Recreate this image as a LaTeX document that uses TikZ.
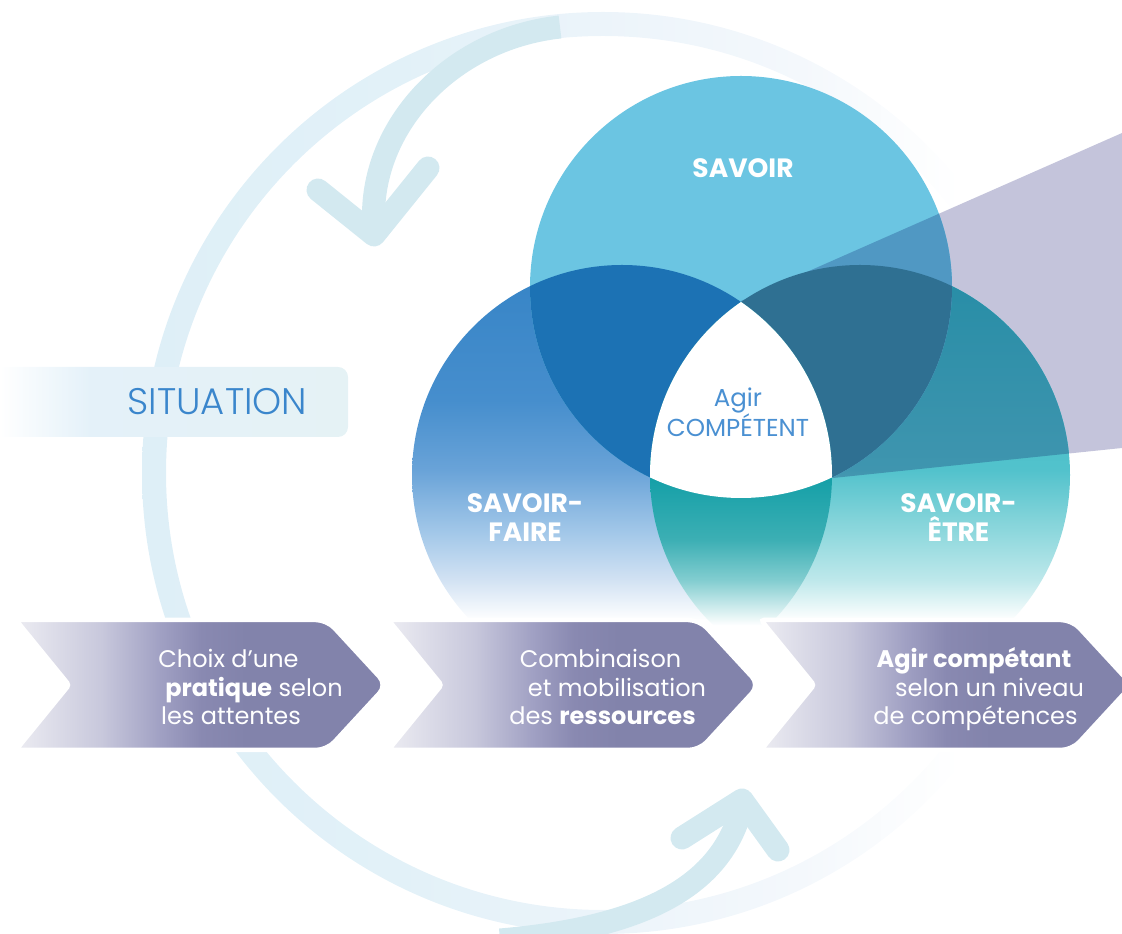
\documentclass[tikz,border=0pt]{standalone}
\usepackage{fontspec}
\setmainfont{Poppins}
\newfontfamily\poplight{Poppins Light}
\usetikzlibrary{calc}

\definecolor{ringA}{RGB}{222,239,247}
\definecolor{ringB}{RGB}{226,241,248}
\definecolor{ringC}{RGB}{236,244,250}
\definecolor{ringD}{RGB}{244,248,252}
\definecolor{arrowcol}{RGB}{211,233,240}
\definecolor{sitA}{RGB}{228,241,249}
\definecolor{sitB}{RGB}{229,242,245}
\definecolor{sittext}{RGB}{58,134,204}
\definecolor{conecol}{RGB}{196,196,219}
\definecolor{savcol}{RGB}{107,197,226}
\definecolor{savdark}{RGB}{80,152,195}
\definecolor{lensSF}{RGB}{28,114,180}
\definecolor{lensSE}{RGB}{47,112,146}
\definecolor{fF0}{RGB}{54,132,198}
\definecolor{fF1}{RGB}{70,142,205}
\definecolor{fF2}{RGB}{105,163,216}
\definecolor{fF3}{RGB}{160,198,232}
\definecolor{fF4}{RGB}{210,226,243}
\definecolor{fE0}{RGB}{50,183,193}
\definecolor{fE2}{RGB}{82,194,204}
\definecolor{fE3}{RGB}{140,215,220}
\definecolor{fE4}{RGB}{190,232,235}
\definecolor{dE0}{RGB}{38,141,166}
\definecolor{dE2}{RGB}{63,149,175}
\definecolor{dE3}{RGB}{108,165,189}
\definecolor{lFE0}{RGB}{22,160,168}
\definecolor{lFE1}{RGB}{60,175,180}
\definecolor{lFE2}{RGB}{130,205,208}
\definecolor{chA}{RGB}{236,236,242}
\definecolor{chB}{RGB}{200,200,220}
\definecolor{chC}{RGB}{160,160,195}
\definecolor{chD}{RGB}{137,137,177}
\definecolor{chE}{RGB}{130,131,171}
\definecolor{agircol}{RGB}{74,144,210}

\pgfdeclarehorizontalshading{ringsh}{100bp}{color(0bp)=(ringA); color(25bp)=(ringA); color(39bp)=(ringB); color(49.8bp)=(ringC); color(60.7bp)=(ringD); color(69.4bp)=(white); color(100bp)=(white)}
\pgfdeclarehorizontalshading{sitsh}{100bp}{color(0bp)=(white); color(27.7bp)=(white); color(40bp)=(sitA); color(75bp)=(sitB); color(100bp)=(sitB)}
\pgfdeclareverticalshading{fadeF}{100bp}{color(0bp)=(white); color(32.7bp)=(white); color(37.5bp)=(fF4); color(43.5bp)=(fF3); color(50.6bp)=(fF2); color(58.9bp)=(fF1); color(75bp)=(fF0); color(100bp)=(fF0)}
\pgfdeclareverticalshading{fadeE}{100bp}{color(0bp)=(white); color(32.7bp)=(white); color(37.5bp)=(fE4); color(43.5bp)=(fE3); color(50.6bp)=(fE2); color(75bp)=(fE0); color(100bp)=(fE0)}
\pgfdeclareverticalshading{darkE}{100bp}{color(0bp)=(dE3); color(43.5bp)=(dE3); color(50.6bp)=(dE2); color(75bp)=(dE0); color(100bp)=(dE0)}
\pgfdeclareverticalshading{lensFE}{100bp}{color(0bp)=(white); color(32.1bp)=(white); color(37.5bp)=(lFE2); color(42.3bp)=(lFE1); color(49.4bp)=(lFE0); color(100bp)=(lFE0)}
\pgfdeclarehorizontalshading{chevsh}{100bp}{color(0bp)=(chA); color(25bp)=(chA); color(36.5bp)=(chB); color(44.5bp)=(chC); color(50bp)=(chD); color(56bp)=(chE); color(100bp)=(chE)}

\tikzset{
  arrowline/.style={draw=arrowcol, line width=23pt, line cap=round, line join=round},
  arrowshaft/.style={draw=arrowcol, line width=23pt, line cap=butt},
  chevron/.style={draw=white, line width=4.5pt, shading=chevsh},
  chevtext/.style={anchor=base, text=white, inner sep=0pt, font=\fontsize{24}{28}\selectfont},
  venntext/.style={anchor=base, text=white, inner sep=0pt, font=\fontsize{26.5}{30}\selectfont\bfseries},
  agirtext/.style={anchor=base, text=agircol, inner sep=0pt, font=\fontsize{24.5}{28}\selectfont},
}

\begin{document}
\begin{tikzpicture}[x=1pt,y=1pt]
\useasboundingbox (0,0) rectangle (1122,934);

% ring
\coordinate (R) at (603,461);
\path[even odd rule, shading=ringsh] (R) circle[radius=461] (R) circle[radius=437];

% curved arrows
\coordinate (ta0) at (560,907);
\coordinate (ta1) at (374,705);
\coordinate (tal) at (318,744);
\coordinate (tap) at (374,699);
\coordinate (tar) at (428,766);
\draw[arrowshaft] (ta0) .. controls (450,895) and (366,805) .. (ta1);
\draw[arrowline] (tal) -- (tap) -- (tar);

\coordinate (ba0) at (500,-6);
\coordinate (ba1) at (742,128);
\coordinate (bal) at (682,96);
\coordinate (bap) at (742,134);
\coordinate (bar) at (778,84);
\draw[arrowshaft] (ba0) .. controls (665,8) and (725,60) .. (ba1);
\draw[arrowline] (bal) -- (bap) -- (bar);

% situation box
\path[shading=sitsh, rounded corners=10pt] (-20,497) rectangle (348,567);
\node[text=sittext, anchor=base, inner sep=0pt, font=\poplight\fontsize{37}{40}\selectfont] (sit) at (217.5,519) {SITUATION};

% cone
\coordinate (k1) at (741,633);
\coordinate (k2) at (1122,801);
\coordinate (k3) at (1122,486);
\coordinate (k4) at (833,456);
\fill[conecol] (k1) -- (k2) -- (k3) -- (k4) -- cycle;

% venn circles
\coordinate (S) at (741,647);
\coordinate (F) at (622,459);
\coordinate (E) at (860,459);
\path[shading=fadeF] (F) circle[radius=210];
\path[shading=fadeE] (E) circle[radius=210];
\begin{scope}
  \clip (k1) -- (k2) -- (k3) -- (k4) -- cycle;
  \path[shading=darkE] (E) circle[radius=210];
\end{scope}
\fill[savcol] (S) circle[radius=211];
\begin{scope}
  \clip (k1) -- (k2) -- (k3) -- (k4) -- cycle;
  \fill[savdark] (S) circle[radius=211];
\end{scope}
\begin{scope}
  \clip (S) circle[radius=211];
  \fill[lensSF] (F) circle[radius=210];
\end{scope}
\begin{scope}
  \clip (S) circle[radius=211];
  \fill[lensSE] (E) circle[radius=210];
\end{scope}
\begin{scope}
  \clip (F) circle[radius=210];
  \path[shading=lensFE] (E) circle[radius=210];
\end{scope}
\begin{scope}
  \clip (S) circle[radius=211];
  \clip (F) circle[radius=210];
  \fill[white] (E) circle[radius=210];
\end{scope}

% venn labels
\node[venntext] (sav) at (743,756) {SAVOIR};
\node[venntext] (sf1) at (525,421) {SAVOIR-};
\node[venntext] (sf2) at (525,392) {FAIRE};
\node[venntext] (se1) at (958.5,421) {SAVOIR-};
\node[venntext] (se2) at (958.5,392) {ÊTRE};
\node[agirtext] (ag1) at (738,527) {Agir};
\node[agirtext] (ag2) at (738,497) {COMPÉTENT};

% chevrons
\path[chevron] (69,249) [rounded corners=3pt] -- (16,314) [rounded corners=11pt] -- (327,314) -- (387,249) -- (327,184) [rounded corners=3pt] -- (16,184) -- cycle;
\path[chevron] (441.5,249) [rounded corners=3pt] -- (388.5,314) [rounded corners=11pt] -- (699.5,314) -- (759.5,249) -- (699.5,184) [rounded corners=3pt] -- (388.5,184) -- cycle;
\path[chevron] (814,249) [rounded corners=3pt] -- (761,314) [rounded corners=11pt] -- (1072,314) -- (1132,249) -- (1072,184) [rounded corners=3pt] -- (761,184) -- cycle;

\node[chevtext] (c1a) at (228.5,266) {Choix d’une};
\node[chevtext] (c1b) at (254,237) {\textbf{pratique} selon};
\node[chevtext] (c1c) at (231,209) {les attentes};
\node[chevtext] (c2a) at (600.5,266) {Combinaison};
\node[chevtext] (c2b) at (617,237) {et mobilisation};
\node[chevtext] (c2c) at (602.5,209) {des \textbf{ressources}};
\node[chevtext] (c3a) at (974,266) {\textbf{Agir compétant}};
\node[chevtext] (c3b) at (989.5,237) {selon un niveau};
\node[chevtext] (c3c) at (975.5,209) {de compétences};
\end{tikzpicture}
\end{document}
